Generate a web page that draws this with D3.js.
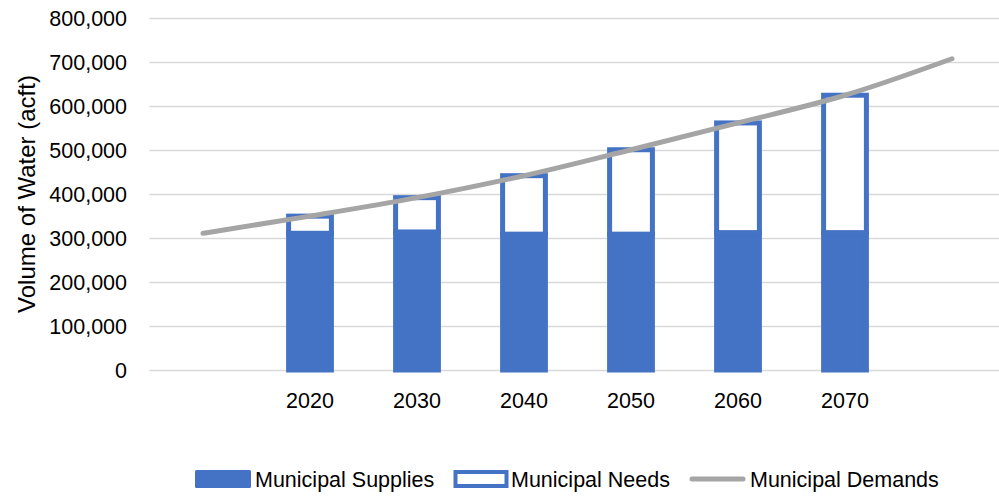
<!DOCTYPE html>
<html>
<head>
<meta charset="utf-8">
<script src="https://cdn.jsdelivr.net/npm/d3@7"></script>
<style>
  html, body { margin: 0; padding: 0; background: #fff; }
  svg { display: block; }
  text { font-family: "Liberation Sans", Arial, sans-serif; fill: #000; }
</style>
</head>
<body>
<svg id="chart" width="999" height="497"></svg>
<script>
// ---- data ----
const categories = ["", "2020", "2030", "2040", "2050", "2060", "2070", ""];
const supplies   = [null, 311000, 314000, 309000, 309000, 312500, 312500, null];
const needs      = [null, 39000, 78000, 133000, 192000, 249500, 312500, null];
const demands    = [311000, 350000, 392000, 442000, 501000, 562000, 625000, 708000];
const yTicks     = [0, 100000, 200000, 300000, 400000, 500000, 600000, 700000, 800000];
const seriesNames = ["Municipal Supplies", "Municipal Needs", "Municipal Demands"];

const blue = "#4472C4", gray = "#A5A5A5", grid = "#D9D9D9";

const svg = d3.select("#chart");
const idx = categories.map((_, i) => i);

const x = d3.scaleBand().domain(idx).range([149.5, 1005.5]).padding(0);
const y = d3.scaleLinear().domain([0, 800000]).range([370, 18.3]);

// gridlines
svg.append("g").selectAll("line").data(yTicks).join("line")
  .attr("x1", 149.5).attr("x2", 1005.5)
  .attr("y1", d => Math.round(y(d)) + 0.5).attr("y2", d => Math.round(y(d)) + 0.5)
  .attr("stroke", grid).attr("stroke-width", 1.3);

// y tick labels
const fmt = d3.format(",");
svg.append("g").selectAll("text").data(yTicks).join("text")
  .attr("x", 127).attr("y", d => y(d))
  .attr("dy", "0.36em")
  .attr("text-anchor", "end")
  .style("font-size", "21.5px")
  .text(d => fmt(d));

// y axis title
svg.append("text")
  .attr("transform", "translate(35,194) rotate(-90)")
  .attr("text-anchor", "middle")
  .style("font-size", "24px")
  .text("Volume of Water (acft)");

// x tick labels
svg.append("g").selectAll("text").data(idx.filter(i => categories[i] !== "")).join("text")
  .attr("x", i => x(i) + x.bandwidth() / 2)
  .attr("y", 408)
  .attr("text-anchor", "middle")
  .style("font-size", "21.5px")
  .text(i => categories[i]);

// bars
const sw = 5;
const barW = x.bandwidth() * 0.40;
const barIdx = idx.filter(i => supplies[i] != null);
const bx = i => x(i) + (x.bandwidth() - barW) / 2;

svg.append("g").selectAll("rect").data(barIdx).join("rect")
  .attr("x", bx)
  .attr("y", i => y(supplies[i]))
  .attr("width", barW)
  .attr("height", i => y(0) - y(supplies[i]))
  .attr("fill", blue).attr("stroke", blue).attr("stroke-width", sw);

svg.append("g").selectAll("rect").data(barIdx).join("rect")
  .attr("x", bx)
  .attr("y", i => y(supplies[i] + needs[i]))
  .attr("width", barW)
  .attr("height", i => y(supplies[i]) - y(supplies[i] + needs[i]))
  .attr("fill", "#fff").attr("stroke", blue).attr("stroke-width", sw);

// demands line
const line = d3.line()
  .x((d, i) => x(i) + x.bandwidth() / 2)
  .y(d => y(d))
  .curve(d3.curveMonotoneX);
svg.append("path")
  .attr("d", line(demands))
  .attr("fill", "none").attr("stroke", gray).attr("stroke-width", 5)
  .attr("stroke-linecap", "round").attr("stroke-linejoin", "round");

// legend
const lg = svg.append("g");
const ly = 479;
lg.append("rect").attr("x", 195).attr("y", ly - 9).attr("width", 56).attr("height", 18)
  .attr("rx", 1.5).attr("fill", blue);
lg.append("text").attr("x", 255).attr("y", ly).attr("dy", "0.36em")
  .style("font-size", "21.5px").text(seriesNames[0]);

lg.append("rect").attr("x", 455.5).attr("y", ly - 7).attr("width", 51).attr("height", 14)
  .attr("fill", "#fff").attr("stroke", blue).attr("stroke-width", 4);
lg.append("text").attr("x", 511).attr("y", ly).attr("dy", "0.36em")
  .style("font-size", "21.5px").text(seriesNames[1]);

lg.append("line").attr("x1", 692).attr("x2", 743).attr("y1", ly).attr("y2", ly)
  .attr("stroke", gray).attr("stroke-width", 5).attr("stroke-linecap", "round");
lg.append("text").attr("x", 750).attr("y", ly).attr("dy", "0.36em")
  .style("font-size", "21.5px").text(seriesNames[2]);
</script>
</body>
</html>
